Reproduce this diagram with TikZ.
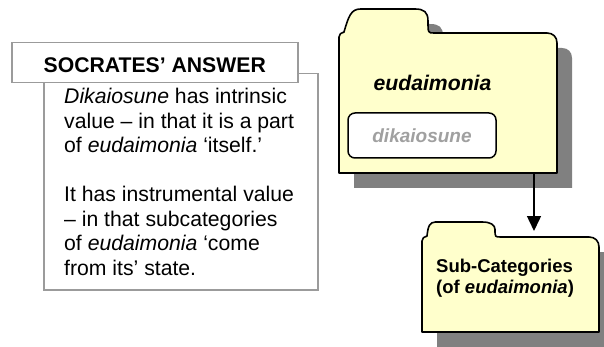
\documentclass[tikz,border=0pt]{standalone}
\usepackage{fontspec}
\setmainfont{Liberation Sans}
\usetikzlibrary{arrows.meta,positioning}
\definecolor{foldercream}{RGB}{255,255,204}
\definecolor{foldershade}{RGB}{128,128,128}
\definecolor{framegray}{RGB}{155,155,155}
\definecolor{labelgray}{RGB}{160,160,160}
% folder outline: left, body top, right, bottom, tab top, tab end
\newcommand{\folderoutline}[6]{(#1,#4) -- ({#1},{#2+4})
	.. controls ({#1},{#2+1}) and ({#1+2},{#2}) .. ({#1+5},{#2-1})
	.. controls ({#1+0.4*(#2-#5)},{#2-0.7*(#2-#5)}) and ({#1+0.5*(#2-#5)},{#5}) .. ({#1+0.9*(#2-#5)},{#5})
	-- ({#6-16},{#5})
	.. controls ({#6-7},{#5}) and ({#6-3},{#5+3}) .. ({#6-3},{#2-0.5*(#2-#5)})
	.. controls ({#6-3},{#2}) .. ({#6+3},{#2})
	-- ({#3-10},{#2}) .. controls ({#3-4},{#2}) and ({#3},{#2+4}) .. ({#3},{#2+10})
	-- (#3,#4) -- cycle}
\tikzset{
	>={Triangle[width=14pt,length=15pt]},
	framebox/.style={
		rectangle,
		draw=framegray, line width=1.5pt,
		fill=white,
		inner sep=0pt},
	folderline/.style={draw=black, line width=1.6pt, fill=foldercream, line join=round},
	foldershadow/.style={fill=foldershade, shift={(15,15)}},
	folderbody/.style={inner sep=0pt, outer sep=0pt},
	innerbox/.style={
		rectangle,
		rounded corners=7pt,
		draw=black, line width=1.5pt,
		fill=white,
		minimum width=148pt,
		minimum height=45pt,
		text=labelgray,
		font=\fontsize{19}{22}\selectfont\bfseries\itshape},
	bodytext/.style={align=left, inner sep=0pt, font=\fontsize{21.2}{24.5}\selectfont},
	line/.style={draw, line width=1.5pt, ->, shorten >=6pt},
}
\begin{document}
\begin{tikzpicture}
	[x=1pt, y=-1pt]
	\useasboundingbox (0,0) rectangle (604,347);
	% the answer panel
	\node[framebox, anchor=north west, minimum width=274pt, minimum height=216pt] (answer) at (43,73) {};
	\node[framebox, anchor=north west, minimum width=286pt, minimum height=40pt,
		text height=19pt, text depth=0pt,
		font=\fontsize{21.2}{24}\selectfont\bfseries] (title) at (11,42) {SOCRATES’ ANSWER};
	\node[bodytext, anchor=north west] (answertext) at (64,88) {\textit{Dikaiosune} has intrinsic\\
		value – in that it is a part\\
		of \textit{eudaimonia} ‘itself.’\\[24.5pt]
		It has instrumental value\\
		– in that subcategories\\
		of \textit{eudaimonia} ‘come\\
		from its’ state.};
	% the two folders
	\fill[foldershadow] \folderoutline{339}{33}{557}{173}{9}{431};
	\path[folderline] \folderoutline{339}{33}{557}{173}{9}{431};
	\fill[foldershadow] \folderoutline{422}{237}{599}{332}{222}{498};
	\path[folderline] \folderoutline{422}{237}{599}{332}{222}{498};
	\node[folderbody, minimum width=218pt, minimum height=140pt] (eudfolder) at (448,103) {};
	\node[folderbody, minimum width=177pt, minimum height=95pt] (subfolder) at (510.5,284.5) {};
	\node[anchor=base, inner sep=0pt, font=\fontsize{21.2}{24}\selectfont\bfseries\itshape] (eudlabel) at (432.5,91) {eudaimonia};
	\node[innerbox] (dik) at (422,135.5) {dikaiosune};
	\node[anchor=north west, align=left, inner sep=0pt,
		font=\fontsize{18.5}{21}\selectfont\bfseries] (sublabel) at (436,258.5) {Sub-Categories\\(of \textit{eudaimonia})};
	\draw[line] ([xshift=86pt]eudfolder.south) -- ([xshift=86pt]eudfolder.south |- subfolder.north);
\end{tikzpicture}
\end{document}
